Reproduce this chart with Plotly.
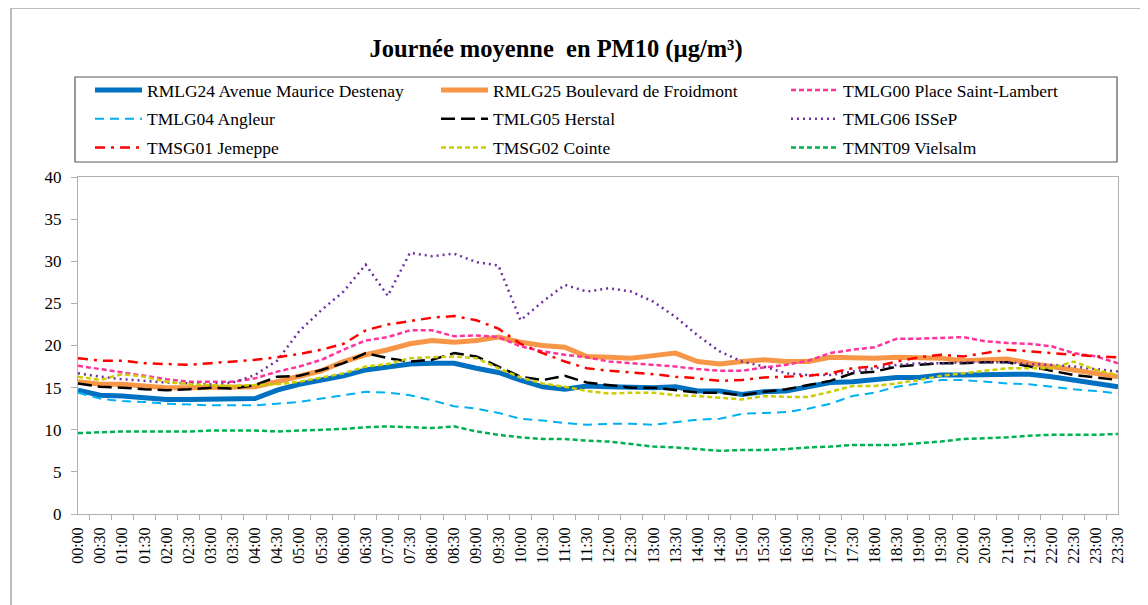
import plotly.graph_objects as go

times = [f"{h:02d}:{m:02d}" for h in range(24) for m in (0, 30)]

rmlg24 = [14.7, 14.1, 14.0, 13.8, 13.6, 13.6, 13.6, 13.6, 13.7, 14.7, 15.4, 15.9,
          16.4, 17.1, 17.5, 17.8, 17.9, 17.9, 17.3, 16.8, 15.9, 15.1, 14.8, 15.2,
          15.1, 15.0, 15.0, 15.1, 14.6, 14.6, 14.2, 14.5, 14.6, 15.1, 15.6, 15.7,
          16.0, 16.2, 16.2, 16.5, 16.5, 16.5, 16.6, 16.6, 16.3, 15.9, 15.5, 15.1]
rmlg25 = [15.7, 15.4, 15.4, 15.2, 15.0, 15.0, 15.0, 15.0, 15.1, 15.7, 16.3, 17.0,
          18.1, 18.9, 19.5, 20.2, 20.6, 20.4, 20.6, 21.0, 20.4, 20.0, 19.8, 18.7,
          18.6, 18.5, 18.8, 19.1, 18.1, 17.8, 18.1, 18.3, 18.1, 18.1, 18.6, 18.5,
          18.5, 18.6, 18.6, 18.5, 18.2, 18.3, 18.4, 17.9, 17.5, 17.1, 16.7, 16.3]
tmlg00 = [17.6, 17.2, 16.8, 16.4, 16.0, 15.7, 15.7, 15.7, 16.1, 16.9, 17.5, 18.3,
          19.5, 20.6, 21.0, 21.8, 21.8, 21.1, 21.2, 21.0, 19.9, 19.3, 18.9, 18.6,
          18.1, 17.9, 17.7, 17.5, 17.2, 17.0, 17.0, 17.4, 17.7, 18.2, 19.1, 19.5,
          19.8, 20.8, 20.8, 20.9, 21.0, 20.5, 20.3, 20.2, 19.9, 19.1, 18.7, 17.9]
tmlg04 = [14.4, 13.7, 13.4, 13.3, 13.1, 13.0, 12.9, 12.9, 12.9, 13.1, 13.3, 13.7,
          14.1, 14.5, 14.4, 14.1, 13.5, 12.8, 12.5, 12.0, 11.3, 11.1, 10.8, 10.6,
          10.7, 10.7, 10.6, 10.9, 11.2, 11.3, 11.9, 12.0, 12.1, 12.5, 13.1, 14.0,
          14.4, 15.1, 15.5, 15.9, 15.9, 15.7, 15.5, 15.4, 15.1, 14.8, 14.6, 14.3]
tmlg05 = [15.5, 15.1, 15.0, 14.8, 14.7, 14.8, 15.0, 14.9, 15.3, 16.3, 16.4, 17.1,
          17.9, 19.1, 18.5, 18.1, 18.3, 19.1, 18.7, 17.5, 16.3, 15.9, 16.4, 15.6,
          15.3, 15.0, 15.0, 14.7, 14.4, 14.4, 14.1, 14.5, 14.8, 15.3, 15.8, 16.7,
          16.9, 17.5, 17.7, 17.9, 17.9, 18.0, 18.0, 17.5, 17.0, 16.5, 16.2, 15.9]
tmlg06 = [16.7, 16.3, 16.0, 15.8, 15.6, 15.5, 15.4, 15.6, 16.5, 18.2, 21.7, 24.2,
          26.4, 29.6, 25.9, 31.0, 30.6, 30.9, 29.9, 29.5, 23.0, 25.2, 27.2, 26.4,
          26.8, 26.4, 25.2, 23.4, 21.2, 19.3, 18.1, 17.5, 16.7, 16.5, 16.5, 16.9,
          17.3, 17.7, 17.9, 17.9, 18.0, 18.0, 18.0, 17.8, 17.7, 17.5, 17.2, 16.9]
tmsg01 = [18.5, 18.2, 18.2, 17.9, 17.8, 17.7, 17.9, 18.1, 18.3, 18.6, 19.0, 19.5,
          20.2, 21.8, 22.5, 22.9, 23.3, 23.5, 23.0, 22.0, 20.2, 19.1, 18.1, 17.3,
          17.0, 16.8, 16.6, 16.3, 16.1, 15.8, 15.9, 16.2, 16.3, 16.4, 16.7, 17.3,
          17.5, 18.1, 18.6, 18.9, 18.7, 19.1, 19.5, 19.3, 19.1, 18.9, 18.7, 18.6]
tmsg02 = [16.3, 15.9, 16.6, 16.3, 15.7, 15.4, 15.3, 15.2, 15.3, 15.4, 15.7, 16.2,
          16.7, 17.5, 17.8, 18.5, 18.6, 18.7, 18.5, 17.3, 16.2, 15.5, 15.1, 14.6,
          14.3, 14.4, 14.4, 14.1, 14.0, 13.8, 13.6, 14.0, 13.9, 13.9, 14.5, 15.2,
          15.2, 15.5, 15.9, 16.4, 16.7, 17.0, 17.3, 17.3, 17.3, 18.1, 17.1, 16.5]
tmnt09 = [9.6, 9.7, 9.8, 9.8, 9.8, 9.8, 9.9, 9.9, 9.9, 9.8, 9.9, 10.0,
          10.1, 10.3, 10.4, 10.3, 10.2, 10.4, 9.8, 9.4, 9.1, 8.9, 8.9, 8.7,
          8.6, 8.3, 8.0, 7.9, 7.7, 7.5, 7.6, 7.6, 7.7, 7.9, 8.0, 8.2,
          8.2, 8.2, 8.4, 8.6, 8.9, 9.0, 9.1, 9.3, 9.4, 9.4, 9.4, 9.5]

y_ticks = [0, 5, 10, 15, 20, 25, 30, 35, 40]

# (name, values, colour, width, dash, legend column)
series = [
    ("RMLG24 Avenue Maurice Destenay", rmlg24, "#0070C0", 5, "solid", "legend"),
    ("RMLG25 Boulevard de Froidmont", rmlg25, "#F79646", 5, "solid", "legend2"),
    ("TMLG00 Place Saint-Lambert", tmlg00, "#FF3399", 2.5, "5px,3px", "legend3"),
    ("TMLG04 Angleur", tmlg04, "#00B0F0", 2, "9px,6px", "legend"),
    ("TMLG05 Herstal", tmlg05, "#000000", 2.5, "14px,6px", "legend2"),
    ("TMLG06 ISSeP", tmlg06, "#7030A0", 2.5, "2px,4px", "legend3"),
    ("TMSG01 Jemeppe", tmsg01, "#FF0000", 2.5, "10px,6px,3px,6px", "legend"),
    ("TMSG02 Cointe", tmsg02, "#CCCC00", 2.5, "5px,3px", "legend2"),
    ("TMNT09 Vielsalm", tmnt09, "#00B050", 2.5, "5px,3px", "legend3"),
]

W, H = 1148, 605
OFF = 8  # page body margin offset
# target plot area in page pixels
L, R, T, B = 78, 1118, 177, 514

fig = go.Figure()
for k, (name, vals, color, width, dash, leg) in enumerate(series):
    fig.add_trace(go.Scatter(
        x=times, y=vals, name=name, mode="lines",
        line=dict(color=color, width=width, dash=dash),
        legend=leg, legendgroup=f"g{k}",
    ))

serif = "Liberation Serif"


def px_x(p):
    return (p - L) / (R - L)


def px_y(p):
    return (B - p) / (B - T)


leg_font = dict(family=serif, size=17.5, color="#000000")
leg_top = 64


def legend_at(x_px):
    return dict(
        orientation="v",
        xref="container", yref="container",
        x=x_px / W, y=1 - leg_top / H, xanchor="left", yanchor="top",
        borderwidth=0, bgcolor="rgba(0,0,0,0)",
        font=leg_font, itemwidth=47, tracegroupgap=3,
        traceorder="grouped",
    )


fig.update_layout(
    width=W, height=H,
    margin=dict(l=L - OFF, r=W - (R - OFF), t=T - OFF, b=H - (B - OFF),
                autoexpand=False),
    paper_bgcolor="white", plot_bgcolor="white",
    font=dict(family=serif, size=16, color="#000000"),
    title=dict(
        text="<b>Journée moyenne  en PM10 (µg/m³)</b>",
        font=dict(family=serif, size=24.5, color="#000000"),
        xref="container", yref="container",
        x=548 / W, y=1 - 40 / H, xanchor="center", yanchor="middle",
    ),
    legend=legend_at(82),
    legend2=legend_at(428),
    legend3=legend_at(778),
    xaxis=dict(
        type="category", tickangle=-90,
        showline=True, linecolor="#B0B0B0", linewidth=1, mirror=True,
        ticks="outside", ticklen=5, tickcolor="#B0B0B0", tickson="boundaries",
        ticklabelstandoff=6,
        showgrid=False, zeroline=False,
        tickfont=dict(family=serif, size=16, color="#000000"),
    ),
    yaxis=dict(
        range=[0, 40], tickvals=y_ticks,
        showline=True, linecolor="#B0B0B0", linewidth=1, mirror=True,
        ticks="outside", ticklen=6, tickcolor="#B0B0B0",
        ticklabelstandoff=6,
        showgrid=False, zeroline=False,
        tickfont=dict(family=serif, size=17, color="#000000"),
    ),
    shapes=[
        dict(
            type="rect", xref="paper", yref="paper",
            x0=px_x(11), x1=px_x(1160), y0=px_y(620), y1=px_y(8),
            line=dict(color="#A6A6A6", width=1.5), fillcolor="rgba(0,0,0,0)",
            layer="below",
        ),
        dict(
            type="rect", xref="paper", yref="paper",
            x0=px_x(75), x1=px_x(1117), y0=px_y(162), y1=px_y(77),
            line=dict(color="#595959", width=1.2), fillcolor="rgba(0,0,0,0)",
            layer="below",
        ),
    ],
)

fig.write_html("out.html")
